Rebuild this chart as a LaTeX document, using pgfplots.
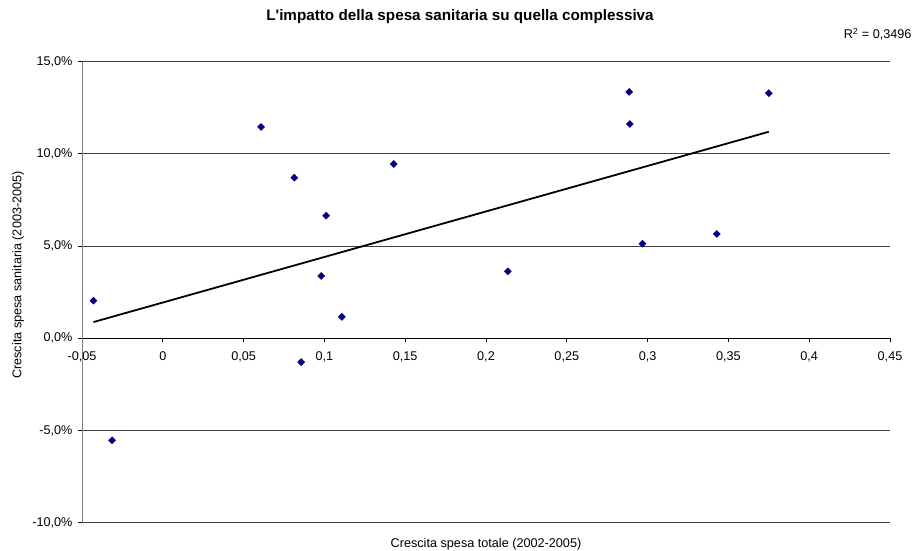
\documentclass[border=0pt]{standalone}
\usepackage{fontspec}
\setmainfont{Liberation Sans}
\usepackage{pgfplots}
\usepackage{pgfplotstable}
\pgfplotsset{compat=1.18}

% Crescita spesa totale (x) vs crescita spesa sanitaria (y, in %)
\pgfplotstableread{
x        y
-0.0429  2.04
-0.0314 -5.53
 0.0608 11.46
 0.0814  8.71
 0.0980  3.38
 0.1011  6.65
 0.1108  1.16
 0.0856 -1.29
 0.1429  9.45
 0.2135  3.63
 0.2886 13.36
 0.2890 11.62
 0.2968  5.13
 0.3428  5.66
 0.3750 13.29
}\datatable

% Linear trend line over the range of x
\pgfplotstableread{
x        y
-0.0429  0.88
 0.3750 11.20
}\trendtable

\definecolor{navymark}{RGB}{0,0,128}

\begin{document}
\begin{tikzpicture}[x=1bp,y=1bp]
\path[use as bounding box] (0,0) rectangle (920,551);
\begin{axis}[
  at={(82bp,28.3bp)}, anchor=south west,
  scale only axis, width=808bp, height=461bp,
  xmin=-0.05, xmax=0.45, ymin=-10, ymax=15,
  axis x line*=middle, axis y line*=left,
  hide obscured x ticks=false, hide obscured y ticks=false,
  x axis line style={black, line width=0.8bp},
  y axis line style={black!50, line width=1bp},
  xtick={-0.05,0,0.05,0.1,0.15,0.2,0.25,0.3,0.35,0.4,0.45},
  xticklabels={{-0,05},{0},{0,05},{0,1},{0,15},{0,2},{0,25},{0,3},{0,35},{0,4},{0,45}},
  ytick={-10,-5,0,5,10,15},
  yticklabels={{-10,0\%},{-5,0\%},{0,0\%},{5,0\%},{10,0\%},{15,0\%}},
  ymajorgrids, grid style={black!75, line width=0.8bp},
  tick align=outside, major tick length=4bp,
  tick style={black, line width=0.8bp},
  ticklabel style={font=\fontsize{12.7}{14}\selectfont},
  xticklabel style={yshift=-6bp},
  yticklabel style={xshift=-2bp},
  clip=false,
]
\addplot[only marks, mark=square*, mark size=2.5bp,
  mark options={rotate=45, fill=navymark, draw=navymark}]
  table[x=x,y=y] {\datatable};
\addplot[black, line width=1.8bp, no marks] table[x=x,y=y] {\trendtable};
\end{axis}
\node[font=\bfseries\fontsize{15.3}{17}\selectfont] at (460,534) {L\textquotesingle impatto della spesa sanitaria su quella complessiva};
\node[anchor=east, font=\fontsize{12.7}{14}\selectfont] at (915,517) {R\textsuperscript{2} = 0,3496};
\node[font=\fontsize{12.7}{14}\selectfont] at (486,7) {Crescita spesa totale (2002-2005)};
\node[rotate=90, font=\fontsize{12.7}{14}\selectfont] at (18,276) {Crescita spesa sanitaria (2003-2005)};
\end{tikzpicture}
\end{document}
